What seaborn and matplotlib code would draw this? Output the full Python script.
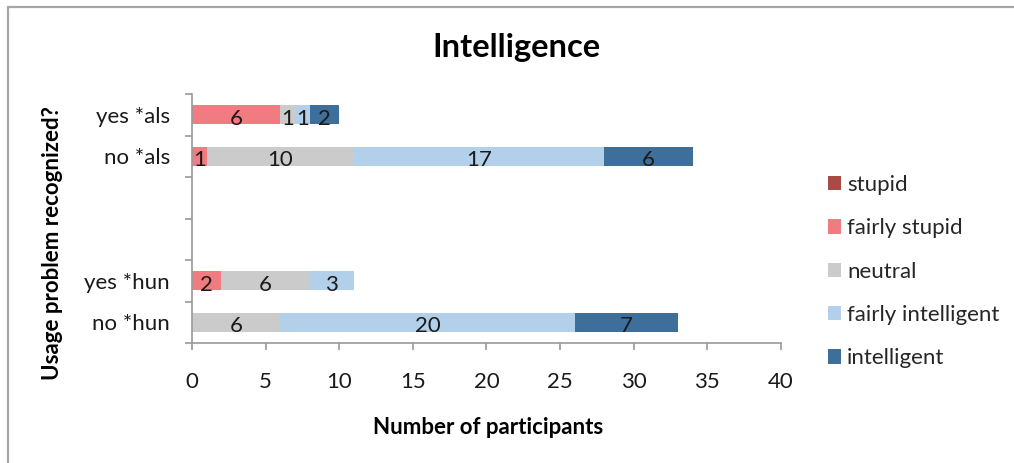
import numpy as np
import matplotlib
matplotlib.use("Agg")
import matplotlib.pyplot as plt
import seaborn as sns
from matplotlib.patches import Patch
from matplotlib.lines import Line2D

# Response groups (two empty slots separate the *als and *hun blocks)
groups = ["yes *als", "no *als", " ", "  ", "yes *hun", "no *hun"]
ratings = ["stupid", "fairly stupid", "neutral", "fairly intelligent", "intelligent"]

stupid = [0, 0, 0, 0, 0, 0]
fairly_stupid = [6, 1, 0, 0, 2, 0]
neutral = [1, 10, 0, 0, 6, 6]
fairly_intelligent = [1, 17, 0, 0, 3, 20]
intelligent = [2, 6, 0, 0, 0, 7]

colors = ["#A84B47", "#F07B81", "#CBCBCB", "#B2D0E9", "#3E6E9A"]

sns.set_style("white")
plt.rcParams["font.family"] = ["Lato", "DejaVu Sans"]

W, H = 1014, 463
FS = 16
fig = plt.figure(figsize=(W / 100, H / 100), dpi=100)
ax = fig.add_axes([192 / W, 1 - 343 / H, (781 - 192) / W, (343 - 94) / H])

series = np.array([stupid, fairly_stupid, neutral, fairly_intelligent, intelligent], dtype=float)
cum = np.cumsum(series, axis=0)

# Stacked bars: draw cumulative totals from the outermost segment inwards
for i in reversed(range(len(ratings))):
    sns.barplot(x=cum[i], y=groups, color=colors[i], orient="h", width=0.46,
                saturation=1, linewidth=0, ax=ax)

# Segment value labels
for i in range(len(ratings)):
    for j in range(len(groups)):
        v = series[i, j]
        if v > 0:
            left = cum[i, j] - v
            ax.text(left + v / 2, j + 0.1, f"{int(v)}", ha="center", va="center",
                    fontsize=FS, color="#1a1a1a")

ax.set_xlim(0, 40)
ax.set_xticks(range(0, 41, 5))
ax.set_ylim(5.5, -0.5)
ax.set_yticks(np.arange(-0.5, 6, 1))
ax.set_yticklabels([""] * 7)
ax.set_yticks(range(len(groups)), labels=groups, minor=True)
ax.set_xlabel("")
ax.set_ylabel("")

spine_c = "#9A9A9A"
for s in ["top", "right"]:
    ax.spines[s].set_visible(False)
for s in ["left", "bottom"]:
    ax.spines[s].set_color(spine_c)
    ax.spines[s].set_linewidth(1.2)
ax.tick_params(axis="x", which="major", length=5, width=1.2, color=spine_c,
               pad=16, labelsize=FS, labelcolor="#1a1a1a", bottom=True)
ax.tick_params(axis="y", which="major", length=5, width=1.2, color=spine_c, left=True)
ax.tick_params(axis="y", which="minor", length=0, pad=16, labelsize=FS,
               labelcolor="#1a1a1a", left=True)

fig.text(516 / W, 1 - 48 / H, "Intelligence", ha="center", va="center",
         fontsize=23.5, fontweight="bold", color="#000000")
fig.text(488 / W, 1 - 428 / H, "Number of participants", ha="center", va="center",
         fontsize=FS, fontweight="bold", color="#000000")
fig.text(53 / W, 1 - 243 / H, "Usage problem recognized?", ha="center", va="center",
         rotation=90, fontsize=FS, fontweight="bold", color="#000000")

handles = [Patch(facecolor=c, edgecolor="none") for c in colors]
fig.legend(handles, ratings, loc="upper left", bbox_to_anchor=(828 / W, 1 - 175 / H),
           frameon=False, fontsize=FS, handlelength=0.6, handleheight=0.6,
           handletextpad=0.25, labelspacing=1.05, borderaxespad=0, borderpad=0)

# Outer frame (left and top edges)
frame_c = "#A6A6A6"
fig.add_artist(Line2D([8 / W, 8 / W], [0, 1 - 7 / H], color=frame_c, lw=1.6,
                      transform=fig.transFigure))
fig.add_artist(Line2D([8 / W, 1], [1 - 7 / H, 1 - 7 / H], color=frame_c, lw=1.6,
                      transform=fig.transFigure))

fig.savefig("out.png", dpi=100)
